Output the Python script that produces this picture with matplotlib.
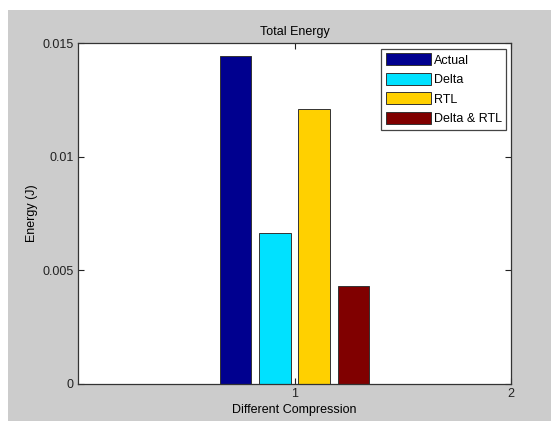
import matplotlib
matplotlib.use("Agg")
import matplotlib.pyplot as plt
from matplotlib.patches import Rectangle

# Data
series = ["Actual", "Delta", "RTL", "Delta & RTL"]
values = [0.01444, 0.00663, 0.01208, 0.00432]
colors = ["#00008F", "#00E1FF", "#FFD000", "#800000"]
group_x = 1
xticks = [1, 2]
yticks = [0, 0.005, 0.01, 0.015]
yticklabels = ["0", "0.005", "0.01", "0.015"]

plt.rcParams['font.family'] = ['Liberation Sans', 'DejaVu Sans']
plt.rcParams['font.size'] = 9

fig = plt.figure(figsize=(5.51, 4.21), dpi=100, facecolor="white")
W, H = 551, 421
fig.patches.append(Rectangle((8 / W, 0), 1 - 8 / W, 1 - 10 / H,
                             transform=fig.transFigure, facecolor="#CCCCCC",
                             edgecolor="none", zorder=-10))

ax = fig.add_axes([78 / W, 1 - 384 / H, (511 - 78) / W, (384 - 43) / H])
ax.set_facecolor("white")

n = len(series)
groupwidth = min(0.8, n / (n + 1.5))
spacing = groupwidth / n
barw = 0.8 * spacing
for i, (lab, v, c) in enumerate(zip(series, values, colors)):
    x = group_x + (i - (n - 1) / 2) * spacing
    ax.bar(x, v, width=barw, color=c, edgecolor="#333333", linewidth=0.7, label=lab)

ax.set_xlim(0, 2)
ax.set_ylim(0, 0.015)
ax.set_xticks(xticks)
ax.set_xticklabels([str(t) for t in xticks])
ax.set_yticks(yticks)
ax.set_yticklabels(yticklabels)
ax.tick_params(direction="in", length=4, width=0.8, top=True, right=True,
               colors="#222222", labelsize=9, pad=3)
for s in ax.spines.values():
    s.set_color("#333333")
    s.set_linewidth(0.9)

ax.set_title("Total Energy", fontsize=9, pad=6)
ax.set_xlabel("Different Compression", fontsize=9, labelpad=3)
ax.set_ylabel("Energy (J)", fontsize=9, labelpad=3)

leg = ax.legend(loc="upper right", bbox_to_anchor=((506 - 78) / 433, (384 - 49) / 341),
                borderaxespad=0, fancybox=False, edgecolor="#444444",
                handlelength=3.6, handleheight=1.1, labelspacing=0.5,
                handletextpad=0.25, borderpad=0.35, fontsize=9, framealpha=1)
leg.get_frame().set_linewidth(0.9)

fig.savefig("out.png", dpi=100, facecolor=fig.get_facecolor())
